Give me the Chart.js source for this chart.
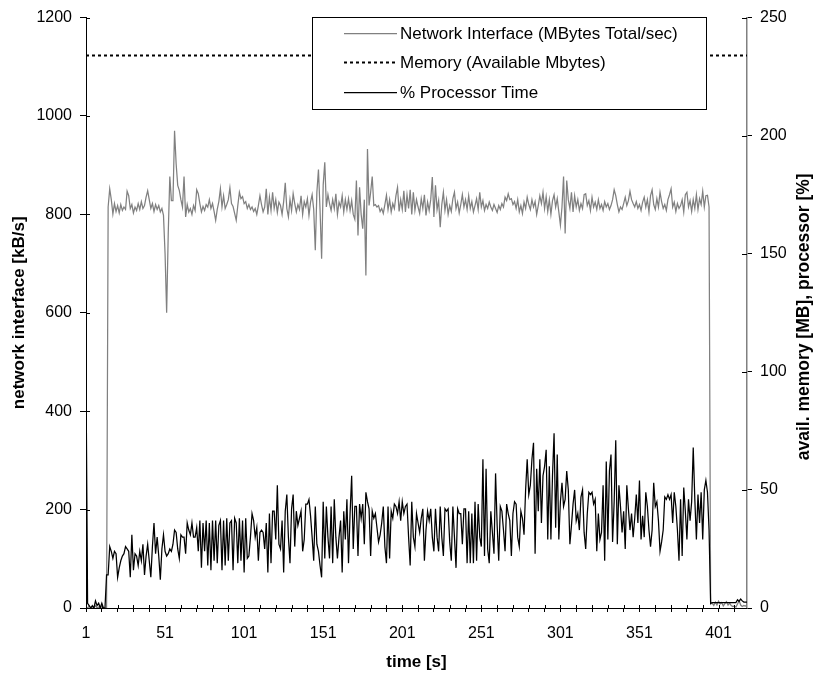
<!DOCTYPE html>
<html>
<head>
<meta charset="utf-8">
<script src="https://cdn.jsdelivr.net/npm/chart.js@4.4.1/dist/chart.umd.min.js"></script>
<style>
  html, body { margin: 0; padding: 0; background: #fff; }
  #wrap { width: 817px; height: 677px; position: relative; }
</style>
</head>
<body>
<div id="wrap"><canvas id="chart"></canvas></div>
<script>
// network interface, kB/s (left axis), one value per second
const network = [
  2, 0, 4, 0, 3, 0, 5, 0, 2, 0,
  3, 0, 0, 0, 815, 852, 830, 801, 822, 806,
  818, 803, 820, 808, 815, 810, 847, 838, 812, 820,
  803, 815, 808, 822, 810, 826, 812, 818, 835, 848,
  830, 812, 822, 806, 820, 810, 818, 805, 812, 798,
  720, 600, 760, 877, 828, 828, 970, 903, 859, 849,
  830, 815, 877, 795, 820, 805, 812, 800, 818, 808,
  850, 842, 822, 805, 816, 808, 820, 815, 830, 812,
  822, 806, 788, 810, 826, 852, 815, 838, 812, 820,
  830, 854, 822, 816, 802, 788, 818, 845, 832, 836,
  822, 826, 812, 820, 810, 815, 806, 812, 800, 818,
  838, 820, 805, 815, 852, 800, 835, 808, 845, 812,
  830, 804, 825, 818, 800, 826, 864, 812, 795, 830,
  808, 842, 822, 805, 820, 810, 838, 800, 826, 815,
  832, 798, 825, 840, 810, 727, 845, 891, 810, 710,
  860, 906, 815, 840, 822, 808, 830, 812, 842, 800,
  825, 815, 838, 805, 830, 810, 832, 808, 828, 800,
  790, 869, 757, 855, 800, 771, 830, 676, 933, 818,
  845, 877, 818, 820, 815, 818, 806, 812, 802, 820,
  839, 810, 830, 805, 822, 812, 838, 855, 806, 830,
  810, 848, 805, 840, 812, 850, 800, 845, 808, 830,
  815, 802, 832, 812, 840, 798, 825, 808, 830, 876,
  795, 859, 810, 828, 774, 820, 845, 808, 830, 800,
  818, 806, 832, 845, 812, 825, 803, 820, 840, 815,
  830, 810, 838, 812, 826, 805, 818, 832, 810, 845,
  815, 828, 808, 820, 812, 825, 815, 808, 820, 812,
  804, 818, 810, 822, 815, 835, 828, 842, 830, 832,
  820, 826, 812, 830, 805, 818, 802, 825, 812, 835,
  820, 810, 830, 815, 826, 800, 818, 838, 822, 845,
  812, 836, 806, 830, 800, 828, 840, 815, 832, 805,
  778, 815, 877, 761, 869, 830, 812, 845, 805, 838,
  815, 830, 808, 822, 812, 840, 842, 818, 828, 808,
  835, 815, 825, 810, 830, 812, 820, 808, 826, 815,
  822, 810, 818, 830, 850, 838, 820, 805, 815, 810,
  822, 835, 818, 828, 847, 830, 822, 815, 826, 812,
  820, 808, 825, 835, 815, 830, 805, 838, 850, 820,
  810, 832, 815, 845, 826, 812, 820, 808, 830, 840,
  852, 815, 825, 806, 822, 812, 818, 830, 805, 840,
  845, 815, 828, 806, 830, 812, 840, 810, 832, 820,
  847, 815, 838, 839, 815, 8, 10, 5, 12, 6,
  14, 8, 11, 4, 9, 13, 6, 10, 5, 3,
  4, 2, 8, 15, 6, 3, 5, 4, 6
];

// available memory, MB (right axis)
const memory = [
  234, 234, 234, 234, 234, 234, 234, 234, 234, 234, 234, 234, 234, 234, 234, 234, 234, 234, 234, 234,
  234, 234, 234, 234, 234, 234, 234, 234, 234, 234, 234, 234, 234, 234, 234, 234, 234, 234, 234, 234,
  234, 234, 234, 234, 234, 234, 234, 234, 234, 234, 234, 234, 234, 234, 234, 234, 234, 234, 234, 234,
  234, 234, 234, 234, 234, 234, 234, 234, 234, 234, 234, 234, 234, 234, 234, 234, 234, 234, 234, 234,
  234, 234, 234, 234, 234, 234, 234, 234, 234, 234, 234, 234, 234, 234, 234, 234, 234, 234, 234, 234,
  234, 234, 234, 234, 234, 234, 234, 234, 234, 234, 234, 234, 234, 234, 234, 234, 234, 234, 234, 234,
  234, 234, 234, 234, 234, 234, 234, 234, 234, 234, 234, 234, 234, 234, 234, 234, 234, 234, 234, 234,
  234, 234, 234, 234, 234, 234, 234, 234, 234, 234, 234, 234, 234, 234, 234, 234, 234, 234, 234, 234,
  234, 234, 234, 234, 234, 234, 234, 234, 234, 234, 234, 234, 234, 234, 234, 234, 234, 234, 234, 234,
  234, 234, 234, 234, 234, 234, 234, 234, 234, 234, 234, 234, 234, 234, 234, 234, 234, 234, 234, 234,
  234, 234, 234, 234, 234, 234, 234, 234, 234, 234, 234, 234, 234, 234, 234, 234, 234, 234, 234, 234,
  234, 234, 234, 234, 234, 234, 234, 234, 234, 234, 234, 234, 234, 234, 234, 234, 234, 234, 234, 234,
  234, 234, 234, 234, 234, 234, 234, 234, 234, 234, 234, 234, 234, 234, 234, 234, 234, 234, 234, 234,
  234, 234, 234, 234, 234, 234, 234, 234, 234, 234, 234, 234, 234, 234, 234, 234, 234, 234, 234, 234,
  234, 234, 234, 234, 234, 234, 234, 234, 234, 234, 234, 234, 234, 234, 234, 234, 234, 234, 234, 234,
  234, 234, 234, 234, 234, 234, 234, 234, 234, 234, 234, 234, 234, 234, 234, 234, 234, 234, 234, 234,
  234, 234, 234, 234, 234, 234, 234, 234, 234, 234, 234, 234, 234, 234, 234, 234, 234, 234, 234, 234,
  234, 234, 234, 234, 234, 234, 234, 234, 234, 234, 234, 234, 234, 234, 234, 234, 234, 234, 234, 234,
  234, 234, 234, 234, 234, 234, 234, 234, 234, 234, 234, 234, 234, 234, 234, 234, 234, 234, 234, 234,
  234, 234, 234, 234, 234, 234, 234, 234, 234, 234, 234, 234, 234, 234, 234, 234, 234, 234, 234, 234,
  234, 234, 234, 234, 234, 234, 234, 234, 234, 234, 234, 234, 234, 234, 234, 234, 234, 234, 234
];

// % processor time (right axis)
const processor = [
  100, 2, 1, 0, 1, 0, 3, 1, 2, 0,
  2, 0, 0, 14, 14, 26, 24, 21, 24, 23,
  13, 17, 20, 22, 23, 26, 25, 24, 13, 31,
  16, 23, 22, 18, 24, 20, 27, 14, 22, 27,
  20, 13, 26, 36, 23, 30, 22, 12, 25, 31,
  24, 22, 23, 25, 24, 27, 33, 32, 25, 21,
  31, 30, 30, 23, 36, 33, 31, 36, 30, 30,
  34, 24, 37, 17, 36, 24, 37, 18, 36, 16,
  37, 20, 37, 19, 35, 37, 16, 37, 18, 38,
  20, 36, 37, 16, 38, 36, 19, 38, 20, 37,
  15, 38, 21, 22, 30, 40, 37, 30, 34, 20,
  32, 33, 32, 25, 36, 15, 40, 19, 41, 41,
  29, 52, 27, 25, 37, 15, 41, 48, 30, 19,
  42, 48, 26, 41, 35, 38, 41, 24, 29, 44,
  44, 46, 39, 30, 20, 43, 27, 24, 18, 13,
  45, 21, 43, 30, 21, 43, 19, 46, 30, 21,
  30, 37, 15, 41, 29, 46, 19, 40, 56, 25,
  43, 43, 22, 44, 38, 44, 27, 49, 45, 42,
  22, 41, 38, 40, 34, 28, 31, 36, 43, 26,
  19, 43, 21, 41, 38, 44, 43, 40, 45, 37,
  45, 40, 43, 44, 30, 18, 45, 30, 26, 40,
  36, 32, 38, 42, 20, 33, 41, 37, 42, 30,
  24, 42, 30, 24, 43, 30, 22, 42, 41, 42,
  28, 20, 43, 30, 17, 42, 40, 40, 27, 42,
  42, 19, 41, 19, 40, 19, 45, 20, 44, 30,
  26, 63, 22, 59, 25, 19, 41, 32, 23, 57,
  35, 20, 43, 41, 33, 24, 44, 40, 37, 22,
  40, 45, 44, 30, 26, 41, 38, 31, 50, 63,
  48, 52, 63, 70, 23, 59, 41, 63, 36, 56,
  60, 67, 29, 60, 29, 56, 74, 34, 65, 29,
  45, 53, 43, 46, 58, 50, 27, 35, 44, 50,
  37, 40, 33, 47, 50, 32, 25, 40, 49, 48,
  49, 44, 46, 24, 40, 29, 32, 52, 20, 62,
  29, 58, 65, 28, 45, 71, 27, 52, 43, 32,
  41, 25, 52, 42, 33, 40, 30, 38, 48, 36,
  54, 29, 39, 30, 49, 43, 33, 26, 33, 53,
  43, 45, 37, 24, 28, 33, 47, 46, 48, 46,
  48, 36, 49, 43, 33, 20, 46, 22, 51, 41,
  29, 46, 37, 45, 68, 46, 29, 48, 36, 49,
  29, 50, 54, 49, 33, 2, 2.3, 2.3, 2.3, 2.3,
  2.3, 2.3, 2.3, 2.3, 2.3, 2.3, 2.3, 2.3, 2.3, 2.3,
  2.3, 2.3, 3.5, 2.8, 3.8, 3, 2.5, 2.5, 2.5
];

const time = network.map((v, i) => i + 1);
const xTickMarks = [1, 11, 21, 31, 41, 51, 61, 71, 81, 91, 101, 111, 121, 131, 141, 151, 161, 171, 181, 191,
  201, 211, 221, 231, 241, 251, 261, 271, 281, 291, 301, 311, 321, 331, 341, 351, 361, 371, 381, 391, 401, 411];
const xLabelTicks = [1, 51, 101, 151, 201, 251, 301, 351, 401];
const seriesNames = ["Network Interface (MBytes Total/sec)", "Memory (Available Mbytes)", "% Processor Time"];

const FONT = "'Liberation Sans', Arial, sans-serif";
Chart.defaults.font.family = FONT;
Chart.defaults.font.size = 16;
Chart.defaults.color = "#000";

// small tick marks on the inner side of the axes (excel draws them crossing)
const innerTicks = {
  id: "innerTicks",
  afterDraw(chart) {
    const { ctx, chartArea: a, scales } = chart;
    ctx.save();
    ctx.strokeStyle = "#000";
    ctx.lineWidth = 1;
    ctx.beginPath();
    scales.x.ticks.forEach(t => {
      const px = Math.round(scales.x.getPixelForValue(t.value)) + 0.5;
      ctx.moveTo(px, a.bottom);
      ctx.lineTo(px, a.bottom - 3);
    });
    scales.y.ticks.forEach(t => {
      const py = Math.round(scales.y.getPixelForValue(t.value)) + 0.5;
      ctx.moveTo(a.left, py);
      ctx.lineTo(a.left + 4, py);
    });
    scales.y1.ticks.forEach(t => {
      const py = Math.round(scales.y1.getPixelForValue(t.value)) + 0.5;
      ctx.moveTo(a.right, py);
      ctx.lineTo(a.right - 5, py);
    });
    ctx.stroke();
    ctx.restore();
  }
};

// boxed legend inside the plot, top right
const boxLegend = {
  id: "boxLegend",
  afterDraw(chart) {
    const { ctx } = chart;
    const x0 = 312, y0 = 17, w = 395, h = 93;
    ctx.save();
    ctx.fillStyle = "#fff";
    ctx.fillRect(x0, y0, w, h);
    ctx.strokeStyle = "#000";
    ctx.lineWidth = 1;
    ctx.strokeRect(x0 + 0.5, y0 + 0.5, w - 1, h - 1);
    const rows = [33, 62, 92];
    chart.data.datasets.forEach((ds, i) => {
      const y = rows[i] + 0.5;
      ctx.beginPath();
      ctx.strokeStyle = ds.borderColor;
      ctx.lineWidth = ds.borderWidth;
      ctx.setLineDash(ds.borderDash || []);
      ctx.moveTo(344, y);
      ctx.lineTo(397, y);
      ctx.stroke();
      ctx.setLineDash([]);
      ctx.fillStyle = "#000";
      ctx.font = "17px " + FONT;
      ctx.textBaseline = "middle";
      ctx.textAlign = "left";
      ctx.fillText(ds.label, 400, rows[i] + 1);
    });
    ctx.restore();
  }
};

// right axis title, reading bottom to top
const rightTitle = {
  id: "rightTitle",
  afterDraw(chart) {
    const { ctx, chartArea: a } = chart;
    ctx.save();
    ctx.translate(804, (a.top + a.bottom) / 2 + 4);
    ctx.rotate(-Math.PI / 2);
    ctx.font = "bold 17.5px " + FONT;
    ctx.fillStyle = "#000";
    ctx.textAlign = "center";
    ctx.textBaseline = "middle";
    ctx.fillText("avail. memory [MB], processor [%]", 0, 0);
    ctx.restore();
  }
};

new Chart(document.getElementById("chart"), {
  type: "line",
  data: {
    labels: time,
    datasets: [
      {
        label: seriesNames[0],
        data: network,
        yAxisID: "y",
        borderColor: "#808080",
        borderWidth: 1.25,
        pointRadius: 0,
        order: 2
      },
      {
        label: seriesNames[1],
        data: memory,
        yAxisID: "y1",
        borderColor: "#000",
        borderWidth: 2,
        borderDash: [3, 3],
        pointRadius: 0,
        order: 1
      },
      {
        label: seriesNames[2],
        data: processor,
        yAxisID: "y1",
        borderColor: "#000",
        borderWidth: 1.25,
        pointRadius: 0,
        order: 0
      }
    ]
  },
  options: {
    responsive: true,
    maintainAspectRatio: false,
    animation: false,
    devicePixelRatio: 1,
    layout: { padding: { top: 17, left: 0, right: 0, bottom: 0 } },
    elements: { line: { tension: 0 } },
    plugins: {
      legend: { display: false },
      tooltip: { enabled: false }
    },
    scales: {
      x: {
        type: "linear",
        min: 1,
        max: 419,
        afterBuildTicks: s => { s.ticks = xTickMarks.map(v => ({ value: v })); },
        afterFit: s => { s.height = 69; },
        ticks: {
          autoSkip: false,
          maxRotation: 0,
          padding: 12,
          callback: v => (xLabelTicks.includes(v) ? String(v) : "")
        },
        grid: { drawOnChartArea: false, drawTicks: true, tickLength: 4, color: "#000" },
        border: { color: "#000", width: 1 },
        title: {
          display: true,
          text: "time [s]",
          font: { weight: "bold", size: 17 },
          padding: { top: 0, bottom: 4 }
        }
      },
      y: {
        position: "left",
        min: 0,
        max: 1200,
        afterFit: s => { s.width = 86; },
        ticks: { stepSize: 200, padding: 8, callback: v => String(v) },
        grid: { drawOnChartArea: false, drawTicks: true, tickLength: 6, color: "#000" },
        border: { color: "#000", width: 1 },
        title: {
          display: true,
          text: "network interface [kB/s]",
          font: { weight: "bold", size: 17 },
          padding: { top: 9, bottom: 0 }
        }
      },
      y1: {
        position: "right",
        min: 0,
        max: 250,
        afterFit: s => { s.width = 70; },
        ticks: { stepSize: 50, padding: 8, callback: v => String(v) },
        grid: { drawOnChartArea: false, drawTicks: true, tickLength: 5, color: "#000" },
        border: { color: "#808080", width: 1.5 }
      }
    }
  },
  plugins: [innerTicks, boxLegend, rightTitle]
});
</script>
</body>
</html>
